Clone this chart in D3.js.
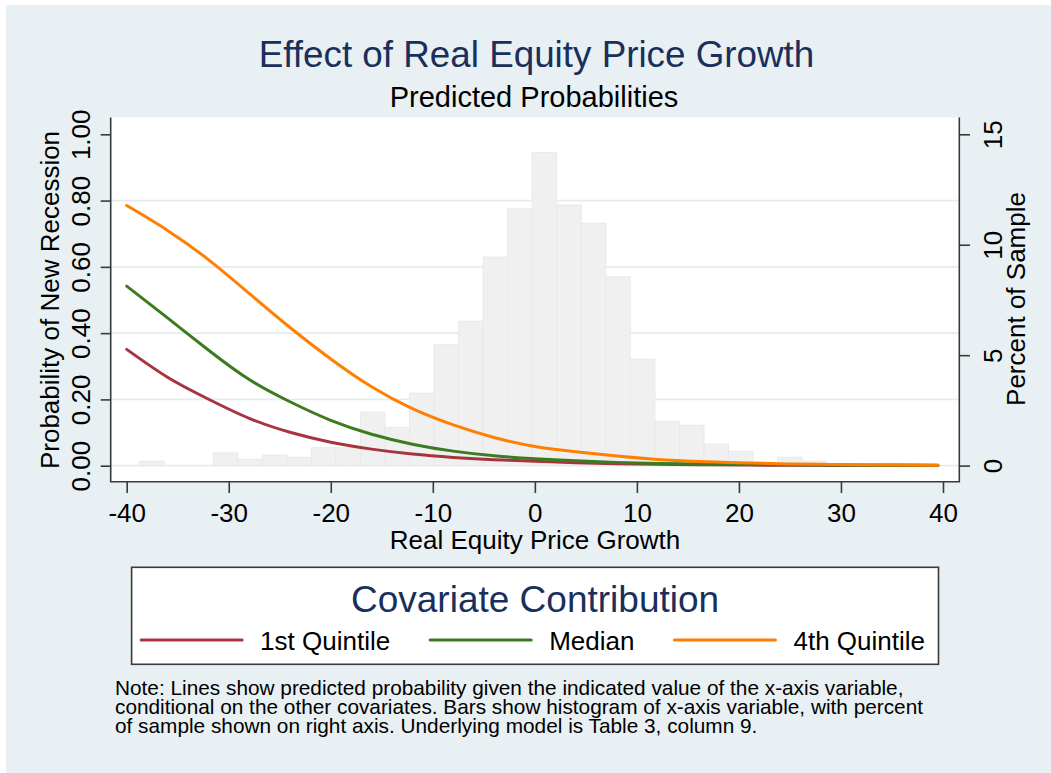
<!DOCTYPE html>
<html>
<head>
<meta charset="utf-8">
<script src="https://cdn.jsdelivr.net/npm/d3@7"></script>
<style>
  body { margin: 0; background: #fff; }
  svg { display: block; font-family: "Liberation Sans", Arial, Helvetica, sans-serif; }
</style>
</head>
<body>
<svg width="1051" height="773"></svg>
<script>
// predicted probability of a new recession, by real equity price growth
const growth = [-40, -36, -32, -28, -24, -20, -16, -12, -8, -4, 0, 4, 8, 12, 16, 20, 24, 28, 32, 36, 39.5];
const quint1 = [0.351, 0.267, 0.201, 0.143, 0.101, 0.071, 0.050, 0.035, 0.025, 0.018, 0.0135, 0.009, 0.006, 0.004, 0.003, 0.002, 0.0015, 0.001, 0.001, 0.001, 0.0005];
const median = [0.542, 0.446, 0.349, 0.260, 0.193, 0.137, 0.095, 0.065, 0.044, 0.030, 0.021, 0.015, 0.010, 0.007, 0.005, 0.004, 0.003, 0.002, 0.0015, 0.001, 0.001];
const quint4 = [0.785, 0.710, 0.622, 0.520, 0.417, 0.322, 0.238, 0.172, 0.123, 0.085, 0.058, 0.042, 0.029, 0.019, 0.013, 0.009, 0.006, 0.004, 0.003, 0.002, 0.0015];

// histogram of the x variable (percent of sample per bin)
const binStart = -38.74, binWidth = 2.405;
const binPercent = [0.20, 0, 0, 0.57, 0.29, 0.48, 0.38, 0.81, 0.81, 2.42, 1.74, 3.28, 5.47, 6.54,
  9.44, 11.62, 14.18, 11.8, 10.97, 8.55, 4.82, 2.0, 1.83, 0.97, 0.64, 0.1, 0.38, 0.2];

const xTicks = [-40, -30, -20, -10, 0, 10, 20, 30, 40];
const probTicks = [0, 0.2, 0.4, 0.6, 0.8, 1];
const pctTicks = [0, 5, 10, 15];
const seriesNames = ["1st Quintile", "Median", "4th Quintile"];
const seriesColors = ["#a8343f", "#3d7b1f", "#ff7f00"];

const svg = d3.select("svg");
const navy = "#1a2f5c", axisCol = "#3a3a3a";

const plot = { left: 110.7, right: 959.3, top: 117.5, bottom: 481.7 };

const x = d3.scaleLinear().domain([-40, 40]).range([126.7, 943]),
    yL = d3.scaleLinear().domain([0, 1]).range([465.7, 134.3]),
    yR = d3.scaleLinear().domain([0, 15]).range([465.6, 134.3]);

// backgrounds
svg.append("rect").attr("x", 6).attr("y", 5).attr("width", 1045).attr("height", 768).attr("fill", "#e8f0f3");
svg.append("rect")
    .attr("x", plot.left).attr("y", plot.top)
    .attr("width", plot.right - plot.left).attr("height", plot.bottom - plot.top)
    .attr("fill", "#fff");

// grid
svg.append("g").selectAll("line")
    .data(probTicks.filter(d => d < 1))
    .join("line")
    .attr("x1", plot.left).attr("x2", plot.right)
    .attr("y1", d => yL(d)).attr("y2", d => yL(d))
    .attr("stroke", "#e3edf1").attr("stroke-width", 1.8);

// histogram
svg.append("g").selectAll("rect")
    .data(binPercent.map((p, i) => ({ p, x0: binStart + i * binWidth, x1: binStart + (i + 1) * binWidth })).filter(d => d.p > 0))
    .join("rect")
    .attr("x", d => x(d.x0))
    .attr("width", d => x(d.x1) - x(d.x0))
    .attr("y", d => yR(d.p))
    .attr("height", d => yR(0) - yR(d.p))
    .attr("fill", "#f0f0f0")
    .attr("stroke", "#e9e9e9")
    .attr("stroke-width", 1);

// curves
const line = d3.line().curve(d3.curveNatural);
[quint1, median, quint4].forEach((vals, k) => {
  svg.append("path")
      .attr("d", line(vals.map((v, i) => [x(growth[i]), yL(v)])))
      .attr("fill", "none")
      .attr("stroke", seriesColors[k])
      .attr("stroke-width", 3)
      .attr("stroke-linecap", "round")
      .attr("stroke-linejoin", "round");
});

// axis lines
svg.append("path")
    .attr("d", `M${plot.left},${plot.top}V${plot.bottom}H${plot.right}V${plot.top}`)
    .attr("fill", "none").attr("stroke", axisCol).attr("stroke-width", 1.6);

function styleAxis(g) {
  g.select(".domain").remove();
  g.selectAll(".tick line").attr("stroke", axisCol).attr("stroke-width", 1.6);
  g.selectAll(".tick text").attr("fill", "#000").attr("font-size", 26)
      .attr("font-family", "Liberation Sans, Arial, sans-serif");
}

const gx = svg.append("g")
    .attr("transform", `translate(0,${plot.bottom})`)
    .call(d3.axisBottom(x).tickValues(xTicks).tickSize(11.3).tickSizeOuter(0).tickFormat(d => String(d)))
    .call(styleAxis);
gx.selectAll(".tick text").attr("y", 0).attr("dy", 0).attr("transform", "translate(0,40)");

const gl = svg.append("g")
    .attr("transform", `translate(${plot.left},0)`)
    .call(d3.axisLeft(yL).tickValues(probTicks).tickSize(10).tickSizeOuter(0).tickFormat(d3.format(".2f")))
    .call(styleAxis);
gl.selectAll(".tick text").attr("x", 0).attr("dy", 0).attr("text-anchor", "middle")
    .attr("transform", "translate(-21.2,0) rotate(-90)");

const gr = svg.append("g")
    .attr("transform", `translate(${plot.right},0)`)
    .call(d3.axisRight(yR).tickValues(pctTicks).tickSize(10.7).tickSizeOuter(0).tickFormat(d => String(d)))
    .call(styleAxis);
gr.selectAll(".tick text").attr("x", 0).attr("dy", 0).attr("text-anchor", "middle")
    .attr("transform", "translate(42.5,0) rotate(-90)");

// axis titles
svg.append("text").attr("x", 535).attr("y", 549).attr("text-anchor", "middle")
    .attr("font-size", 26).text("Real Equity Price Growth");
svg.append("text").attr("transform", "translate(58.5,300) rotate(-90)").attr("text-anchor", "middle")
    .attr("font-size", 26).text("Probability of New Recession");
svg.append("text").attr("transform", "translate(1025.3,299) rotate(-90)").attr("text-anchor", "middle")
    .attr("font-size", 26).text("Percent of Sample");

// titles
svg.append("text").attr("x", 536.5).attr("y", 66.7).attr("text-anchor", "middle")
    .attr("font-size", 36.8).attr("fill", navy).text("Effect of Real Equity Price Growth");
svg.append("text").attr("x", 534).attr("y", 107.3).attr("text-anchor", "middle")
    .attr("font-size", 29).text("Predicted Probabilities");

// legend
const box = { left: 131.6, right: 938.5, top: 567.3, bottom: 664.3 };
svg.append("rect")
    .attr("x", box.left).attr("y", box.top)
    .attr("width", box.right - box.left).attr("height", box.bottom - box.top)
    .attr("fill", "#fff").attr("stroke", axisCol).attr("stroke-width", 1.6);
svg.append("text").attr("x", (box.left + box.right) / 2).attr("y", 611.7).attr("text-anchor", "middle")
    .attr("font-size", 37).attr("fill", navy).text("Covariate Contribution");

const keyLen = 101, keyGap = 18, colGap = 40;
const legendG = svg.append("g");
const labels = seriesNames.map(n => legendG.append("text").attr("y", 650).attr("font-size", 26).text(n));
const widths = labels.map(t => t.node().getComputedTextLength());
const total = d3.sum(widths) + seriesNames.length * (keyLen + keyGap) + (seriesNames.length - 1) * colGap;
let cx = (box.left + box.right) / 2 - 2 - total / 2;
seriesNames.forEach((n, k) => {
  legendG.append("line")
      .attr("x1", cx).attr("x2", cx + keyLen).attr("y1", 640).attr("y2", 640)
      .attr("stroke", seriesColors[k]).attr("stroke-width", 3).attr("stroke-linecap", "round");
  labels[k].attr("x", cx + keyLen + keyGap);
  cx += keyLen + keyGap + widths[k] + colGap;
});

// note
const noteLines = [
  "Note: Lines show predicted probability given the indicated value of the x-axis variable,",
  "conditional on the other covariates. Bars show histogram of x-axis variable, with percent",
  "of sample shown on right axis. Underlying model is Table 3, column 9."
];
svg.append("g").selectAll("text")
    .data(noteLines)
    .join("text")
    .attr("x", 115)
    .attr("y", (d, i) => 695 + i * 19.2)
    .attr("font-size", 20.8)
    .text(d => d);
</script>
</body>
</html>
